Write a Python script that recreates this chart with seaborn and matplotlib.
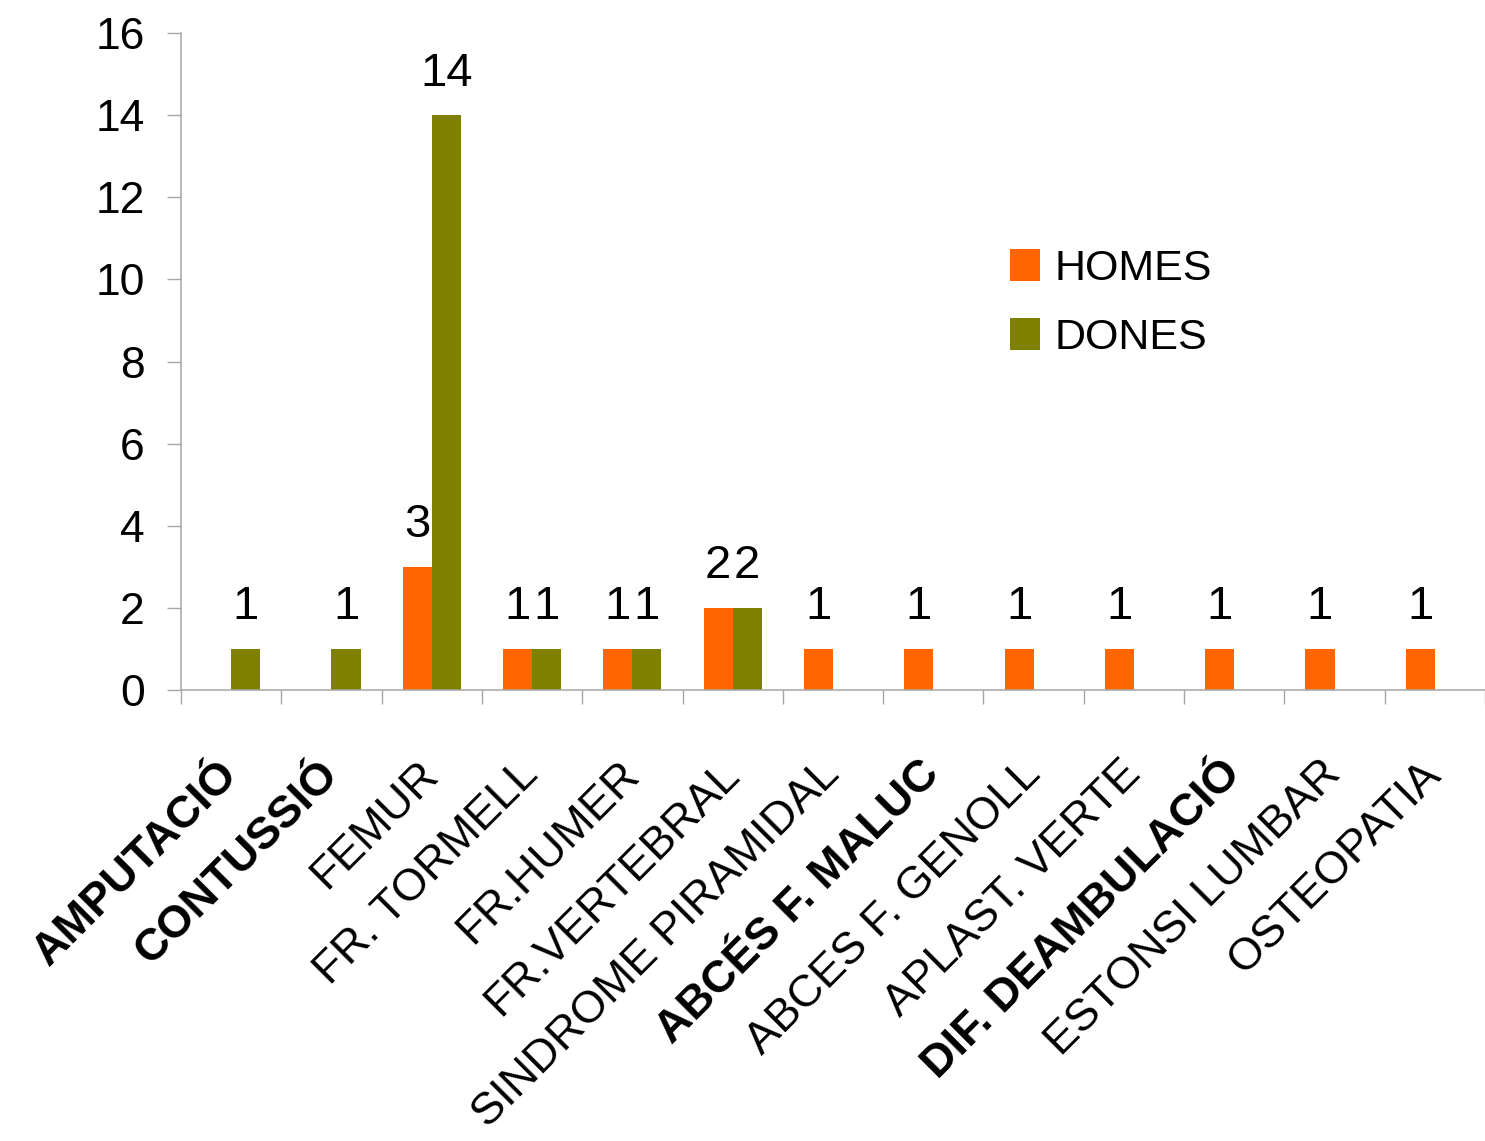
import seaborn as sns
import matplotlib.pyplot as plt
import numpy as np
import pandas as pd

# Counts per diagnosis, men (HOMES) and women (DONES)
categories = ['AMPUTACIÓ', 'CONTUSSIÓ', 'FEMUR', 'FR. TORMELL', 'FR.HUMER',
              'FR.VERTEBRAL', 'SINDROME PIRAMIDAL', 'ABCÉS F. MALUC',
              'ABCES F. GENOLL', 'APLAST. VERTE', 'DIF. DEAMBULACIÓ',
              'ESTONSI LUMBAR', 'OSTEOPATIA']
homes = [0, 0, 3, 1, 1, 2, 1, 1, 1, 1, 1, 1, 1]
dones = [1, 1, 14, 1, 1, 2, 0, 0, 0, 0, 0, 0, 0]
series = ['HOMES', 'DONES']
y_ticks = [0, 2, 4, 6, 8, 10, 12, 14, 16]

bold_labels = ['AMPUTACIÓ', 'CONTUSSIÓ', 'ABCÉS F. MALUC', 'DIF. DEAMBULACIÓ']
colors = {'HOMES': '#FF6600', 'DONES': '#808000'}
grey = '#a6a6a6'

df = pd.DataFrame({
    'cat': categories * 2,
    'sexe': ['HOMES'] * len(categories) + ['DONES'] * len(categories),
    'n': homes + dones,
})

sns.set_style('white')
plt.rcParams['font.family'] = ['Liberation Sans', 'DejaVu Sans']
plt.rcParams['text.color'] = 'black'
plt.rcParams['xtick.labelcolor'] = 'black'
plt.rcParams['ytick.labelcolor'] = 'black'

f = plt.figure(figsize=(14.85, 11.41), dpi=100)
ax = f.add_axes([181 / 1485, 451 / 1141, 1304 / 1485, 657 / 1141])

sns.barplot(data=df, x='cat', y='n', hue='sexe', hue_order=series,
            order=categories, palette=colors, width=0.58, linewidth=0,
            saturation=1, ax=ax)

# value labels only over non-empty bars
for cont, vals in zip(ax.containers, [homes, dones]):
    ax.bar_label(cont, labels=[str(v) if v else '' for v in vals],
                 padding=14, fontsize=34, color='black')

ax.set_ylim(0, 16)
ax.set_xlim(-0.5, len(categories) - 0.5)
ax.set_yticks(y_ticks)
ax.set_xlabel('')
ax.set_ylabel('')

# category labels at centres, tick marks on boundaries
ax.set_xticks(np.arange(len(categories)))
ax.set_xticklabels(categories, rotation=45, ha='right', va='center',
                   rotation_mode='anchor', fontsize=32.5)
for t in ax.get_xticklabels():
    if t.get_text() in bold_labels:
        t.set_fontweight('bold')
ax.set_xticks(np.arange(len(categories) + 1) - 0.5, minor=True)
ax.tick_params(axis='x', which='major', length=0, pad=56)
ax.tick_params(axis='x', which='minor', length=10, width=1, color=grey,
               bottom=True)
ax.tick_params(axis='y', length=10, width=1, color=grey, pad=16,
               labelsize=32, left=True)

sns.despine(ax=ax)
for side in ['left', 'bottom']:
    ax.spines[side].set_color(grey)
    ax.spines[side].set_linewidth(1.1)

handles, labels = ax.get_legend_handles_labels()
ax.legend(handles, labels, loc='upper left', frameon=False,
          bbox_to_anchor=(1010 / 1485, 1 - 249 / 1141),
          bbox_transform=f.transFigure, borderaxespad=0, borderpad=0,
          fontsize=31, handlelength=0.7, handleheight=0.75,
          handletextpad=0.33, labelspacing=0.67)

f.savefig('out.png', dpi=100)
